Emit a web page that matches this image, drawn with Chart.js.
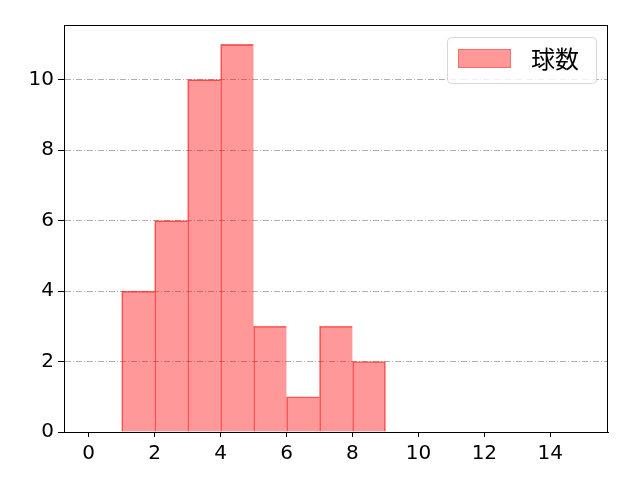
<!DOCTYPE html>
<html>
<head>
<meta charset="utf-8">
<script src="https://cdn.jsdelivr.net/npm/chart.js@4/dist/chart.umd.min.js"></script>
<style>
  html, body { margin: 0; padding: 0; background: #fff; }
  #wrap { width: 640px; height: 480px; }
</style>
</head>
<body>
<div id="wrap"><canvas id="myChart" width="640" height="480"></canvas></div>
<script>
// histogram data
const binEdges = [1, 2, 3, 4, 5, 6, 7, 8, 9];
const counts = [4, 6, 10, 11, 3, 1, 3, 2];
const xTicks = [0, 2, 4, 6, 8, 10, 12, 14];
const yTicks = [0, 2, 4, 6, 8, 10];
const seriesLabel = '球数';

const FONT = "'DejaVu Sans', 'Noto Sans CJK JP', sans-serif";
const CJK = "'Noto Sans CJK JP', sans-serif";

const points = counts.map((c, i) => ({ x: (binEdges[i] + binEdges[i + 1]) / 2, y: c }));
const last = counts.length - 1;

// frame + legend box like matplotlib
const framePlugin = {
    id: 'frame',
    afterDraw(chart) {
        const { ctx, chartArea: a } = chart;
        ctx.save();
        ctx.strokeStyle = '#000';
        ctx.lineWidth = 1;
        ctx.strokeRect(a.left + 0.5, a.top + 0.5, a.right - a.left - 1, a.bottom - a.top);

        // legend
        const bx = 447, by = 37, bw = 149, bh = 46;
        ctx.fillStyle = 'rgba(255,255,255,0.8)';
        ctx.strokeStyle = '#d6d6d6';
        ctx.beginPath();
        ctx.roundRect(bx + 0.5, by + 0.5, bw, bh, 4);
        ctx.fill();
        ctx.stroke();
        ctx.fillStyle = 'rgba(255,0,0,0.4)';
        ctx.fillRect(458, 49, 53, 19);
        ctx.strokeStyle = 'rgba(255,0,0,0.3)';
        ctx.strokeRect(458.5, 49.5, 52, 18);
        ctx.fillStyle = '#000';
        ctx.font = '24px ' + CJK;
        ctx.textBaseline = 'middle';
        ctx.fillText(seriesLabel, 531, 59);
        ctx.restore();
    }
};

new Chart(document.getElementById('myChart'), {
    type: 'bar',
    data: {
        datasets: [{
            label: seriesLabel,
            data: points,
            backgroundColor: 'rgba(255, 0, 0, 0.4)',
            borderColor: 'rgba(255, 0, 0, 0.6)',
            borderWidth: ctx => ({ top: 1, left: 1, bottom: 0, right: ctx.dataIndex === last ? 1 : 0 }),
            borderSkipped: false,
            barPercentage: 1,
            categoryPercentage: 1
        }]
    },
    options: {
        responsive: false,
        animation: false,
        layout: { padding: { top: 25, right: 32, left: 0, bottom: 0 } },
        plugins: {
            legend: { display: false },
            tooltip: { enabled: false }
        },
        scales: {
            x: {
                type: 'linear',
                offset: false,
                min: -0.75,
                max: 15.75,
                afterBuildTicks: s => { s.ticks = xTicks.map(v => ({ value: v })); },
                afterFit: s => { s.height = 48; },
                grid: { offset: false, drawOnChartArea: false, tickLength: 5, tickColor: '#000' },
                border: { color: '#000' },
                ticks: { color: '#000', font: { family: FONT, size: 20 }, padding: 5, maxRotation: 0 }
            },
            y: {
                min: 0,
                max: 11.55,
                afterBuildTicks: s => { s.ticks = yTicks.map(v => ({ value: v })); },
                afterFit: s => { s.width = 64; },
                grid: { color: '#b0b0b0', tickLength: 6, tickColor: '#000', tickBorderDash: [] },
                border: { color: '#000', dash: [6, 2, 1, 2] },
                ticks: { color: '#000', font: { family: FONT, size: 20 }, padding: 4 }
            }
        }
    },
    plugins: [framePlugin]
});
</script>
</body>
</html>
